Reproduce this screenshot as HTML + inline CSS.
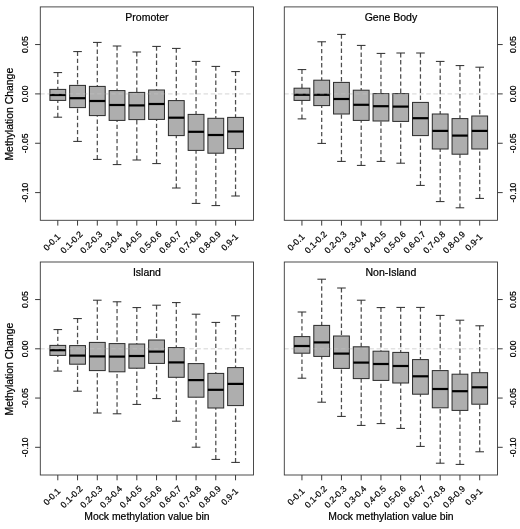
<!DOCTYPE html>
<html lang="en">
<head>
<meta charset="utf-8">
<title>Methylation change by mock methylation value bin</title>
<style>
html,body{margin:0;padding:0;background:#fff;}
body{width:520px;height:529px;overflow:hidden;}
svg{display:block;font-family:"Liberation Sans",sans-serif;fill:#000;will-change:transform;}
svg text{stroke:#000;stroke-width:0.22px;}
svg line, svg rect{shape-rendering:auto;}
</style>
</head>
<body>
<svg width="520" height="529" viewBox="0 0 520 529">
<rect x="0" y="0" width="520" height="529" fill="#ffffff" stroke="none"/>
<line x1="40.3" y1="93.9" x2="253.5" y2="93.9" stroke="#dcdcdc" stroke-width="1.0" stroke-dasharray="4.4 2.7"/>
<line x1="57.8" y1="72.6" x2="57.8" y2="89.4" stroke="#4c4c4c" stroke-width="1.25" stroke-dasharray="4.4 2.7"/>
<line x1="57.8" y1="117.2" x2="57.8" y2="100.4" stroke="#4c4c4c" stroke-width="1.25" stroke-dasharray="4.4 2.7"/>
<line x1="53.5" y1="72.6" x2="62.1" y2="72.6" stroke="#2a2a2a" stroke-width="1.0"/>
<line x1="53.5" y1="117.2" x2="62.1" y2="117.2" stroke="#2a2a2a" stroke-width="1.0"/>
<rect x="49.9" y="89.4" width="15.8" height="11" fill="#aeaeae" stroke="#2a2a2a" stroke-width="1.0"/>
<line x1="49.9" y1="95" x2="65.7" y2="95" stroke="#000" stroke-width="2.2"/>
<line x1="77.55" y1="51.6" x2="77.55" y2="85.4" stroke="#4c4c4c" stroke-width="1.25" stroke-dasharray="4.4 2.7"/>
<line x1="77.55" y1="141.4" x2="77.55" y2="107.6" stroke="#4c4c4c" stroke-width="1.25" stroke-dasharray="4.4 2.7"/>
<line x1="73.25" y1="51.6" x2="81.85" y2="51.6" stroke="#2a2a2a" stroke-width="1.0"/>
<line x1="73.25" y1="141.4" x2="81.85" y2="141.4" stroke="#2a2a2a" stroke-width="1.0"/>
<rect x="69.65" y="85.4" width="15.8" height="22.2" fill="#aeaeae" stroke="#2a2a2a" stroke-width="1.0"/>
<line x1="69.65" y1="98.2" x2="85.45" y2="98.2" stroke="#000" stroke-width="2.2"/>
<line x1="97.3" y1="42.4" x2="97.3" y2="86.4" stroke="#4c4c4c" stroke-width="1.25" stroke-dasharray="4.4 2.7"/>
<line x1="97.3" y1="159.4" x2="97.3" y2="115.6" stroke="#4c4c4c" stroke-width="1.25" stroke-dasharray="4.4 2.7"/>
<line x1="93" y1="42.4" x2="101.6" y2="42.4" stroke="#2a2a2a" stroke-width="1.0"/>
<line x1="93" y1="159.4" x2="101.6" y2="159.4" stroke="#2a2a2a" stroke-width="1.0"/>
<rect x="89.4" y="86.4" width="15.8" height="29.2" fill="#aeaeae" stroke="#2a2a2a" stroke-width="1.0"/>
<line x1="89.4" y1="101" x2="105.2" y2="101" stroke="#000" stroke-width="2.2"/>
<line x1="117.05" y1="46" x2="117.05" y2="90.6" stroke="#4c4c4c" stroke-width="1.25" stroke-dasharray="4.4 2.7"/>
<line x1="117.05" y1="164.6" x2="117.05" y2="120.4" stroke="#4c4c4c" stroke-width="1.25" stroke-dasharray="4.4 2.7"/>
<line x1="112.75" y1="46" x2="121.35" y2="46" stroke="#2a2a2a" stroke-width="1.0"/>
<line x1="112.75" y1="164.6" x2="121.35" y2="164.6" stroke="#2a2a2a" stroke-width="1.0"/>
<rect x="109.15" y="90.6" width="15.8" height="29.8" fill="#aeaeae" stroke="#2a2a2a" stroke-width="1.0"/>
<line x1="109.15" y1="105" x2="124.95" y2="105" stroke="#000" stroke-width="2.2"/>
<line x1="136.8" y1="52" x2="136.8" y2="92.4" stroke="#4c4c4c" stroke-width="1.25" stroke-dasharray="4.4 2.7"/>
<line x1="136.8" y1="160" x2="136.8" y2="119.6" stroke="#4c4c4c" stroke-width="1.25" stroke-dasharray="4.4 2.7"/>
<line x1="132.5" y1="52" x2="141.1" y2="52" stroke="#2a2a2a" stroke-width="1.0"/>
<line x1="132.5" y1="160" x2="141.1" y2="160" stroke="#2a2a2a" stroke-width="1.0"/>
<rect x="128.9" y="92.4" width="15.8" height="27.2" fill="#aeaeae" stroke="#2a2a2a" stroke-width="1.0"/>
<line x1="128.9" y1="105.4" x2="144.7" y2="105.4" stroke="#000" stroke-width="2.2"/>
<line x1="156.55" y1="46.4" x2="156.55" y2="90" stroke="#4c4c4c" stroke-width="1.25" stroke-dasharray="4.4 2.7"/>
<line x1="156.55" y1="163.6" x2="156.55" y2="119.4" stroke="#4c4c4c" stroke-width="1.25" stroke-dasharray="4.4 2.7"/>
<line x1="152.25" y1="46.4" x2="160.85" y2="46.4" stroke="#2a2a2a" stroke-width="1.0"/>
<line x1="152.25" y1="163.6" x2="160.85" y2="163.6" stroke="#2a2a2a" stroke-width="1.0"/>
<rect x="148.65" y="90" width="15.8" height="29.4" fill="#aeaeae" stroke="#2a2a2a" stroke-width="1.0"/>
<line x1="148.65" y1="104" x2="164.45" y2="104" stroke="#000" stroke-width="2.2"/>
<line x1="176.3" y1="48.4" x2="176.3" y2="100.6" stroke="#4c4c4c" stroke-width="1.25" stroke-dasharray="4.4 2.7"/>
<line x1="176.3" y1="188" x2="176.3" y2="135.6" stroke="#4c4c4c" stroke-width="1.25" stroke-dasharray="4.4 2.7"/>
<line x1="172" y1="48.4" x2="180.6" y2="48.4" stroke="#2a2a2a" stroke-width="1.0"/>
<line x1="172" y1="188" x2="180.6" y2="188" stroke="#2a2a2a" stroke-width="1.0"/>
<rect x="168.4" y="100.6" width="15.8" height="35" fill="#aeaeae" stroke="#2a2a2a" stroke-width="1.0"/>
<line x1="168.4" y1="117.7" x2="184.2" y2="117.7" stroke="#000" stroke-width="2.2"/>
<line x1="196.05" y1="61.4" x2="196.05" y2="114.4" stroke="#4c4c4c" stroke-width="1.25" stroke-dasharray="4.4 2.7"/>
<line x1="196.05" y1="203.4" x2="196.05" y2="150.4" stroke="#4c4c4c" stroke-width="1.25" stroke-dasharray="4.4 2.7"/>
<line x1="191.75" y1="61.4" x2="200.35" y2="61.4" stroke="#2a2a2a" stroke-width="1.0"/>
<line x1="191.75" y1="203.4" x2="200.35" y2="203.4" stroke="#2a2a2a" stroke-width="1.0"/>
<rect x="188.15" y="114.4" width="15.8" height="36" fill="#aeaeae" stroke="#2a2a2a" stroke-width="1.0"/>
<line x1="188.15" y1="131.8" x2="203.95" y2="131.8" stroke="#000" stroke-width="2.2"/>
<line x1="215.8" y1="66.4" x2="215.8" y2="118.3" stroke="#4c4c4c" stroke-width="1.25" stroke-dasharray="4.4 2.7"/>
<line x1="215.8" y1="205.6" x2="215.8" y2="153.2" stroke="#4c4c4c" stroke-width="1.25" stroke-dasharray="4.4 2.7"/>
<line x1="211.5" y1="66.4" x2="220.1" y2="66.4" stroke="#2a2a2a" stroke-width="1.0"/>
<line x1="211.5" y1="205.6" x2="220.1" y2="205.6" stroke="#2a2a2a" stroke-width="1.0"/>
<rect x="207.9" y="118.3" width="15.8" height="34.9" fill="#aeaeae" stroke="#2a2a2a" stroke-width="1.0"/>
<line x1="207.9" y1="135" x2="223.7" y2="135" stroke="#000" stroke-width="2.2"/>
<line x1="235.55" y1="71.6" x2="235.55" y2="117.4" stroke="#4c4c4c" stroke-width="1.25" stroke-dasharray="4.4 2.7"/>
<line x1="235.55" y1="196" x2="235.55" y2="148.6" stroke="#4c4c4c" stroke-width="1.25" stroke-dasharray="4.4 2.7"/>
<line x1="231.25" y1="71.6" x2="239.85" y2="71.6" stroke="#2a2a2a" stroke-width="1.0"/>
<line x1="231.25" y1="196" x2="239.85" y2="196" stroke="#2a2a2a" stroke-width="1.0"/>
<rect x="227.65" y="117.4" width="15.8" height="31.2" fill="#aeaeae" stroke="#2a2a2a" stroke-width="1.0"/>
<line x1="227.65" y1="131.5" x2="243.45" y2="131.5" stroke="#000" stroke-width="2.2"/>
<line x1="40.3" y1="93.9" x2="253.5" y2="93.9" stroke="#d3d3d3" stroke-opacity="0.3" stroke-width="1.0" stroke-dasharray="4.4 2.7"/>
<rect x="40.3" y="6.9" width="213.2" height="213.4" fill="none" stroke="#383838" stroke-width="0.9"/>
<line x1="57.8" y1="220.3" x2="57.8" y2="225.6" stroke="#3a3a3a" stroke-width="1.0"/>
<text x="51.8" y="242.2" font-size="8.7" text-anchor="middle" dominant-baseline="central" transform="rotate(-45 51.8 242.2)">0-0.1</text>
<line x1="77.55" y1="220.3" x2="77.55" y2="225.6" stroke="#3a3a3a" stroke-width="1.0"/>
<text x="71.55" y="242.2" font-size="8.7" text-anchor="middle" dominant-baseline="central" transform="rotate(-45 71.55 242.2)">0.1-0.2</text>
<line x1="97.3" y1="220.3" x2="97.3" y2="225.6" stroke="#3a3a3a" stroke-width="1.0"/>
<text x="91.3" y="242.2" font-size="8.7" text-anchor="middle" dominant-baseline="central" transform="rotate(-45 91.3 242.2)">0.2-0.3</text>
<line x1="117.05" y1="220.3" x2="117.05" y2="225.6" stroke="#3a3a3a" stroke-width="1.0"/>
<text x="111.05" y="242.2" font-size="8.7" text-anchor="middle" dominant-baseline="central" transform="rotate(-45 111.05 242.2)">0.3-0.4</text>
<line x1="136.8" y1="220.3" x2="136.8" y2="225.6" stroke="#3a3a3a" stroke-width="1.0"/>
<text x="130.8" y="242.2" font-size="8.7" text-anchor="middle" dominant-baseline="central" transform="rotate(-45 130.8 242.2)">0.4-0.5</text>
<line x1="156.55" y1="220.3" x2="156.55" y2="225.6" stroke="#3a3a3a" stroke-width="1.0"/>
<text x="150.55" y="242.2" font-size="8.7" text-anchor="middle" dominant-baseline="central" transform="rotate(-45 150.55 242.2)">0.5-0.6</text>
<line x1="176.3" y1="220.3" x2="176.3" y2="225.6" stroke="#3a3a3a" stroke-width="1.0"/>
<text x="170.3" y="242.2" font-size="8.7" text-anchor="middle" dominant-baseline="central" transform="rotate(-45 170.3 242.2)">0.6-0.7</text>
<line x1="196.05" y1="220.3" x2="196.05" y2="225.6" stroke="#3a3a3a" stroke-width="1.0"/>
<text x="190.05" y="242.2" font-size="8.7" text-anchor="middle" dominant-baseline="central" transform="rotate(-45 190.05 242.2)">0.7-0.8</text>
<line x1="215.8" y1="220.3" x2="215.8" y2="225.6" stroke="#3a3a3a" stroke-width="1.0"/>
<text x="209.8" y="242.2" font-size="8.7" text-anchor="middle" dominant-baseline="central" transform="rotate(-45 209.8 242.2)">0.8-0.9</text>
<line x1="235.55" y1="220.3" x2="235.55" y2="225.6" stroke="#3a3a3a" stroke-width="1.0"/>
<text x="229.55" y="242.2" font-size="8.7" text-anchor="middle" dominant-baseline="central" transform="rotate(-45 229.55 242.2)">0.9-1</text>
<line x1="35.1" y1="44.55" x2="40.3" y2="44.55" stroke="#3a3a3a" stroke-width="1.0"/>
<text x="24.8" y="44.55" font-size="8.7" text-anchor="middle" dominant-baseline="central" transform="rotate(-90 24.8 44.55)">0.05</text>
<line x1="35.1" y1="93.9" x2="40.3" y2="93.9" stroke="#3a3a3a" stroke-width="1.0"/>
<text x="24.8" y="93.9" font-size="8.7" text-anchor="middle" dominant-baseline="central" transform="rotate(-90 24.8 93.9)">0.00</text>
<line x1="35.1" y1="143.25" x2="40.3" y2="143.25" stroke="#3a3a3a" stroke-width="1.0"/>
<text x="24.8" y="143.25" font-size="8.7" text-anchor="middle" dominant-baseline="central" transform="rotate(-90 24.8 143.25)">-0.05</text>
<line x1="35.1" y1="192.6" x2="40.3" y2="192.6" stroke="#3a3a3a" stroke-width="1.0"/>
<text x="24.8" y="192.6" font-size="8.7" text-anchor="middle" dominant-baseline="central" transform="rotate(-90 24.8 192.6)">-0.10</text>
<text x="146.9" y="21" font-size="10.5" text-anchor="middle">Promoter</text>
<text x="9.9" y="114.2" font-size="10.45" text-anchor="middle" dominant-baseline="central" transform="rotate(-90 9.9 114.2)">Methylation Change</text>
<line x1="284.3" y1="93.9" x2="497.5" y2="93.9" stroke="#dcdcdc" stroke-width="1.0" stroke-dasharray="4.4 2.7"/>
<line x1="301.95" y1="69.6" x2="301.95" y2="88.2" stroke="#4c4c4c" stroke-width="1.25" stroke-dasharray="4.4 2.7"/>
<line x1="301.95" y1="118.9" x2="301.95" y2="100.4" stroke="#4c4c4c" stroke-width="1.25" stroke-dasharray="4.4 2.7"/>
<line x1="297.65" y1="69.6" x2="306.25" y2="69.6" stroke="#2a2a2a" stroke-width="1.0"/>
<line x1="297.65" y1="118.9" x2="306.25" y2="118.9" stroke="#2a2a2a" stroke-width="1.0"/>
<rect x="294.05" y="88.2" width="15.8" height="12.2" fill="#aeaeae" stroke="#2a2a2a" stroke-width="1.0"/>
<line x1="294.05" y1="94.8" x2="309.85" y2="94.8" stroke="#000" stroke-width="2.2"/>
<line x1="321.7" y1="41.8" x2="321.7" y2="80.2" stroke="#4c4c4c" stroke-width="1.25" stroke-dasharray="4.4 2.7"/>
<line x1="321.7" y1="143.4" x2="321.7" y2="105.6" stroke="#4c4c4c" stroke-width="1.25" stroke-dasharray="4.4 2.7"/>
<line x1="317.4" y1="41.8" x2="326" y2="41.8" stroke="#2a2a2a" stroke-width="1.0"/>
<line x1="317.4" y1="143.4" x2="326" y2="143.4" stroke="#2a2a2a" stroke-width="1.0"/>
<rect x="313.8" y="80.2" width="15.8" height="25.4" fill="#aeaeae" stroke="#2a2a2a" stroke-width="1.0"/>
<line x1="313.8" y1="94.8" x2="329.6" y2="94.8" stroke="#000" stroke-width="2.2"/>
<line x1="341.45" y1="34.4" x2="341.45" y2="82.4" stroke="#4c4c4c" stroke-width="1.25" stroke-dasharray="4.4 2.7"/>
<line x1="341.45" y1="161.4" x2="341.45" y2="114" stroke="#4c4c4c" stroke-width="1.25" stroke-dasharray="4.4 2.7"/>
<line x1="337.15" y1="34.4" x2="345.75" y2="34.4" stroke="#2a2a2a" stroke-width="1.0"/>
<line x1="337.15" y1="161.4" x2="345.75" y2="161.4" stroke="#2a2a2a" stroke-width="1.0"/>
<rect x="333.55" y="82.4" width="15.8" height="31.6" fill="#aeaeae" stroke="#2a2a2a" stroke-width="1.0"/>
<line x1="333.55" y1="99" x2="349.35" y2="99" stroke="#000" stroke-width="2.2"/>
<line x1="361.2" y1="45.4" x2="361.2" y2="90.2" stroke="#4c4c4c" stroke-width="1.25" stroke-dasharray="4.4 2.7"/>
<line x1="361.2" y1="165.4" x2="361.2" y2="120.4" stroke="#4c4c4c" stroke-width="1.25" stroke-dasharray="4.4 2.7"/>
<line x1="356.9" y1="45.4" x2="365.5" y2="45.4" stroke="#2a2a2a" stroke-width="1.0"/>
<line x1="356.9" y1="165.4" x2="365.5" y2="165.4" stroke="#2a2a2a" stroke-width="1.0"/>
<rect x="353.3" y="90.2" width="15.8" height="30.2" fill="#aeaeae" stroke="#2a2a2a" stroke-width="1.0"/>
<line x1="353.3" y1="104.8" x2="369.1" y2="104.8" stroke="#000" stroke-width="2.2"/>
<line x1="380.95" y1="53.4" x2="380.95" y2="93.6" stroke="#4c4c4c" stroke-width="1.25" stroke-dasharray="4.4 2.7"/>
<line x1="380.95" y1="161.4" x2="380.95" y2="121" stroke="#4c4c4c" stroke-width="1.25" stroke-dasharray="4.4 2.7"/>
<line x1="376.65" y1="53.4" x2="385.25" y2="53.4" stroke="#2a2a2a" stroke-width="1.0"/>
<line x1="376.65" y1="161.4" x2="385.25" y2="161.4" stroke="#2a2a2a" stroke-width="1.0"/>
<rect x="373.05" y="93.6" width="15.8" height="27.4" fill="#aeaeae" stroke="#2a2a2a" stroke-width="1.0"/>
<line x1="373.05" y1="106.2" x2="388.85" y2="106.2" stroke="#000" stroke-width="2.2"/>
<line x1="400.7" y1="53" x2="400.7" y2="93.6" stroke="#4c4c4c" stroke-width="1.25" stroke-dasharray="4.4 2.7"/>
<line x1="400.7" y1="163.2" x2="400.7" y2="121.4" stroke="#4c4c4c" stroke-width="1.25" stroke-dasharray="4.4 2.7"/>
<line x1="396.4" y1="53" x2="405" y2="53" stroke="#2a2a2a" stroke-width="1.0"/>
<line x1="396.4" y1="163.2" x2="405" y2="163.2" stroke="#2a2a2a" stroke-width="1.0"/>
<rect x="392.8" y="93.6" width="15.8" height="27.8" fill="#aeaeae" stroke="#2a2a2a" stroke-width="1.0"/>
<line x1="392.8" y1="106.6" x2="408.6" y2="106.6" stroke="#000" stroke-width="2.2"/>
<line x1="420.45" y1="53" x2="420.45" y2="102.4" stroke="#4c4c4c" stroke-width="1.25" stroke-dasharray="4.4 2.7"/>
<line x1="420.45" y1="185.4" x2="420.45" y2="135.6" stroke="#4c4c4c" stroke-width="1.25" stroke-dasharray="4.4 2.7"/>
<line x1="416.15" y1="53" x2="424.75" y2="53" stroke="#2a2a2a" stroke-width="1.0"/>
<line x1="416.15" y1="185.4" x2="424.75" y2="185.4" stroke="#2a2a2a" stroke-width="1.0"/>
<rect x="412.55" y="102.4" width="15.8" height="33.2" fill="#aeaeae" stroke="#2a2a2a" stroke-width="1.0"/>
<line x1="412.55" y1="118.2" x2="428.35" y2="118.2" stroke="#000" stroke-width="2.2"/>
<line x1="440.2" y1="61.4" x2="440.2" y2="114" stroke="#4c4c4c" stroke-width="1.25" stroke-dasharray="4.4 2.7"/>
<line x1="440.2" y1="201.6" x2="440.2" y2="149" stroke="#4c4c4c" stroke-width="1.25" stroke-dasharray="4.4 2.7"/>
<line x1="435.9" y1="61.4" x2="444.5" y2="61.4" stroke="#2a2a2a" stroke-width="1.0"/>
<line x1="435.9" y1="201.6" x2="444.5" y2="201.6" stroke="#2a2a2a" stroke-width="1.0"/>
<rect x="432.3" y="114" width="15.8" height="35" fill="#aeaeae" stroke="#2a2a2a" stroke-width="1.0"/>
<line x1="432.3" y1="130.9" x2="448.1" y2="130.9" stroke="#000" stroke-width="2.2"/>
<line x1="459.95" y1="65.6" x2="459.95" y2="118.6" stroke="#4c4c4c" stroke-width="1.25" stroke-dasharray="4.4 2.7"/>
<line x1="459.95" y1="207.8" x2="459.95" y2="154.2" stroke="#4c4c4c" stroke-width="1.25" stroke-dasharray="4.4 2.7"/>
<line x1="455.65" y1="65.6" x2="464.25" y2="65.6" stroke="#2a2a2a" stroke-width="1.0"/>
<line x1="455.65" y1="207.8" x2="464.25" y2="207.8" stroke="#2a2a2a" stroke-width="1.0"/>
<rect x="452.05" y="118.6" width="15.8" height="35.6" fill="#aeaeae" stroke="#2a2a2a" stroke-width="1.0"/>
<line x1="452.05" y1="135.6" x2="467.85" y2="135.6" stroke="#000" stroke-width="2.2"/>
<line x1="479.7" y1="67.2" x2="479.7" y2="116" stroke="#4c4c4c" stroke-width="1.25" stroke-dasharray="4.4 2.7"/>
<line x1="479.7" y1="198.4" x2="479.7" y2="149" stroke="#4c4c4c" stroke-width="1.25" stroke-dasharray="4.4 2.7"/>
<line x1="475.4" y1="67.2" x2="484" y2="67.2" stroke="#2a2a2a" stroke-width="1.0"/>
<line x1="475.4" y1="198.4" x2="484" y2="198.4" stroke="#2a2a2a" stroke-width="1.0"/>
<rect x="471.8" y="116" width="15.8" height="33" fill="#aeaeae" stroke="#2a2a2a" stroke-width="1.0"/>
<line x1="471.8" y1="130.9" x2="487.6" y2="130.9" stroke="#000" stroke-width="2.2"/>
<line x1="284.3" y1="93.9" x2="497.5" y2="93.9" stroke="#d3d3d3" stroke-opacity="0.3" stroke-width="1.0" stroke-dasharray="4.4 2.7"/>
<rect x="284.3" y="6.9" width="213.2" height="213.4" fill="none" stroke="#383838" stroke-width="0.9"/>
<line x1="301.95" y1="220.3" x2="301.95" y2="225.6" stroke="#3a3a3a" stroke-width="1.0"/>
<text x="295.95" y="242.2" font-size="8.7" text-anchor="middle" dominant-baseline="central" transform="rotate(-45 295.95 242.2)">0-0.1</text>
<line x1="321.7" y1="220.3" x2="321.7" y2="225.6" stroke="#3a3a3a" stroke-width="1.0"/>
<text x="315.7" y="242.2" font-size="8.7" text-anchor="middle" dominant-baseline="central" transform="rotate(-45 315.7 242.2)">0.1-0.2</text>
<line x1="341.45" y1="220.3" x2="341.45" y2="225.6" stroke="#3a3a3a" stroke-width="1.0"/>
<text x="335.45" y="242.2" font-size="8.7" text-anchor="middle" dominant-baseline="central" transform="rotate(-45 335.45 242.2)">0.2-0.3</text>
<line x1="361.2" y1="220.3" x2="361.2" y2="225.6" stroke="#3a3a3a" stroke-width="1.0"/>
<text x="355.2" y="242.2" font-size="8.7" text-anchor="middle" dominant-baseline="central" transform="rotate(-45 355.2 242.2)">0.3-0.4</text>
<line x1="380.95" y1="220.3" x2="380.95" y2="225.6" stroke="#3a3a3a" stroke-width="1.0"/>
<text x="374.95" y="242.2" font-size="8.7" text-anchor="middle" dominant-baseline="central" transform="rotate(-45 374.95 242.2)">0.4-0.5</text>
<line x1="400.7" y1="220.3" x2="400.7" y2="225.6" stroke="#3a3a3a" stroke-width="1.0"/>
<text x="394.7" y="242.2" font-size="8.7" text-anchor="middle" dominant-baseline="central" transform="rotate(-45 394.7 242.2)">0.5-0.6</text>
<line x1="420.45" y1="220.3" x2="420.45" y2="225.6" stroke="#3a3a3a" stroke-width="1.0"/>
<text x="414.45" y="242.2" font-size="8.7" text-anchor="middle" dominant-baseline="central" transform="rotate(-45 414.45 242.2)">0.6-0.7</text>
<line x1="440.2" y1="220.3" x2="440.2" y2="225.6" stroke="#3a3a3a" stroke-width="1.0"/>
<text x="434.2" y="242.2" font-size="8.7" text-anchor="middle" dominant-baseline="central" transform="rotate(-45 434.2 242.2)">0.7-0.8</text>
<line x1="459.95" y1="220.3" x2="459.95" y2="225.6" stroke="#3a3a3a" stroke-width="1.0"/>
<text x="453.95" y="242.2" font-size="8.7" text-anchor="middle" dominant-baseline="central" transform="rotate(-45 453.95 242.2)">0.8-0.9</text>
<line x1="479.7" y1="220.3" x2="479.7" y2="225.6" stroke="#3a3a3a" stroke-width="1.0"/>
<text x="473.7" y="242.2" font-size="8.7" text-anchor="middle" dominant-baseline="central" transform="rotate(-45 473.7 242.2)">0.9-1</text>
<line x1="497.5" y1="44.55" x2="502.7" y2="44.55" stroke="#3a3a3a" stroke-width="1.0"/>
<text x="513" y="44.55" font-size="8.7" text-anchor="middle" dominant-baseline="central" transform="rotate(-90 513 44.55)">0.05</text>
<line x1="497.5" y1="93.9" x2="502.7" y2="93.9" stroke="#3a3a3a" stroke-width="1.0"/>
<text x="513" y="93.9" font-size="8.7" text-anchor="middle" dominant-baseline="central" transform="rotate(-90 513 93.9)">0.00</text>
<line x1="497.5" y1="143.25" x2="502.7" y2="143.25" stroke="#3a3a3a" stroke-width="1.0"/>
<text x="513" y="143.25" font-size="8.7" text-anchor="middle" dominant-baseline="central" transform="rotate(-90 513 143.25)">-0.05</text>
<line x1="497.5" y1="192.6" x2="502.7" y2="192.6" stroke="#3a3a3a" stroke-width="1.0"/>
<text x="513" y="192.6" font-size="8.7" text-anchor="middle" dominant-baseline="central" transform="rotate(-90 513 192.6)">-0.10</text>
<text x="390.9" y="21" font-size="10.5" text-anchor="middle">Gene Body</text>
<line x1="40.3" y1="348.8" x2="253.5" y2="348.8" stroke="#dcdcdc" stroke-width="1.0" stroke-dasharray="4.4 2.7"/>
<line x1="57.8" y1="329.6" x2="57.8" y2="345.4" stroke="#4c4c4c" stroke-width="1.25" stroke-dasharray="4.4 2.7"/>
<line x1="57.8" y1="371.1" x2="57.8" y2="355.4" stroke="#4c4c4c" stroke-width="1.25" stroke-dasharray="4.4 2.7"/>
<line x1="53.5" y1="329.6" x2="62.1" y2="329.6" stroke="#2a2a2a" stroke-width="1.0"/>
<line x1="53.5" y1="371.1" x2="62.1" y2="371.1" stroke="#2a2a2a" stroke-width="1.0"/>
<rect x="49.9" y="345.4" width="15.8" height="10" fill="#aeaeae" stroke="#2a2a2a" stroke-width="1.0"/>
<line x1="49.9" y1="350.2" x2="65.7" y2="350.2" stroke="#000" stroke-width="2.2"/>
<line x1="77.55" y1="318.6" x2="77.55" y2="345.6" stroke="#4c4c4c" stroke-width="1.25" stroke-dasharray="4.4 2.7"/>
<line x1="77.55" y1="391.2" x2="77.55" y2="364.2" stroke="#4c4c4c" stroke-width="1.25" stroke-dasharray="4.4 2.7"/>
<line x1="73.25" y1="318.6" x2="81.85" y2="318.6" stroke="#2a2a2a" stroke-width="1.0"/>
<line x1="73.25" y1="391.2" x2="81.85" y2="391.2" stroke="#2a2a2a" stroke-width="1.0"/>
<rect x="69.65" y="345.6" width="15.8" height="18.6" fill="#aeaeae" stroke="#2a2a2a" stroke-width="1.0"/>
<line x1="69.65" y1="355.6" x2="85.45" y2="355.6" stroke="#000" stroke-width="2.2"/>
<line x1="97.3" y1="300.2" x2="97.3" y2="342.4" stroke="#4c4c4c" stroke-width="1.25" stroke-dasharray="4.4 2.7"/>
<line x1="97.3" y1="413" x2="97.3" y2="370.6" stroke="#4c4c4c" stroke-width="1.25" stroke-dasharray="4.4 2.7"/>
<line x1="93" y1="300.2" x2="101.6" y2="300.2" stroke="#2a2a2a" stroke-width="1.0"/>
<line x1="93" y1="413" x2="101.6" y2="413" stroke="#2a2a2a" stroke-width="1.0"/>
<rect x="89.4" y="342.4" width="15.8" height="28.2" fill="#aeaeae" stroke="#2a2a2a" stroke-width="1.0"/>
<line x1="89.4" y1="356.4" x2="105.2" y2="356.4" stroke="#000" stroke-width="2.2"/>
<line x1="117.05" y1="301.8" x2="117.05" y2="343.6" stroke="#4c4c4c" stroke-width="1.25" stroke-dasharray="4.4 2.7"/>
<line x1="117.05" y1="413.8" x2="117.05" y2="371.8" stroke="#4c4c4c" stroke-width="1.25" stroke-dasharray="4.4 2.7"/>
<line x1="112.75" y1="301.8" x2="121.35" y2="301.8" stroke="#2a2a2a" stroke-width="1.0"/>
<line x1="112.75" y1="413.8" x2="121.35" y2="413.8" stroke="#2a2a2a" stroke-width="1.0"/>
<rect x="109.15" y="343.6" width="15.8" height="28.2" fill="#aeaeae" stroke="#2a2a2a" stroke-width="1.0"/>
<line x1="109.15" y1="356.6" x2="124.95" y2="356.6" stroke="#000" stroke-width="2.2"/>
<line x1="136.8" y1="307.6" x2="136.8" y2="344" stroke="#4c4c4c" stroke-width="1.25" stroke-dasharray="4.4 2.7"/>
<line x1="136.8" y1="404.4" x2="136.8" y2="368.2" stroke="#4c4c4c" stroke-width="1.25" stroke-dasharray="4.4 2.7"/>
<line x1="132.5" y1="307.6" x2="141.1" y2="307.6" stroke="#2a2a2a" stroke-width="1.0"/>
<line x1="132.5" y1="404.4" x2="141.1" y2="404.4" stroke="#2a2a2a" stroke-width="1.0"/>
<rect x="128.9" y="344" width="15.8" height="24.2" fill="#aeaeae" stroke="#2a2a2a" stroke-width="1.0"/>
<line x1="128.9" y1="356" x2="144.7" y2="356" stroke="#000" stroke-width="2.2"/>
<line x1="156.55" y1="305.2" x2="156.55" y2="340" stroke="#4c4c4c" stroke-width="1.25" stroke-dasharray="4.4 2.7"/>
<line x1="156.55" y1="398.6" x2="156.55" y2="363.4" stroke="#4c4c4c" stroke-width="1.25" stroke-dasharray="4.4 2.7"/>
<line x1="152.25" y1="305.2" x2="160.85" y2="305.2" stroke="#2a2a2a" stroke-width="1.0"/>
<line x1="152.25" y1="398.6" x2="160.85" y2="398.6" stroke="#2a2a2a" stroke-width="1.0"/>
<rect x="148.65" y="340" width="15.8" height="23.4" fill="#aeaeae" stroke="#2a2a2a" stroke-width="1.0"/>
<line x1="148.65" y1="351.6" x2="164.45" y2="351.6" stroke="#000" stroke-width="2.2"/>
<line x1="176.3" y1="302.6" x2="176.3" y2="347.6" stroke="#4c4c4c" stroke-width="1.25" stroke-dasharray="4.4 2.7"/>
<line x1="176.3" y1="421.2" x2="176.3" y2="377.3" stroke="#4c4c4c" stroke-width="1.25" stroke-dasharray="4.4 2.7"/>
<line x1="172" y1="302.6" x2="180.6" y2="302.6" stroke="#2a2a2a" stroke-width="1.0"/>
<line x1="172" y1="421.2" x2="180.6" y2="421.2" stroke="#2a2a2a" stroke-width="1.0"/>
<rect x="168.4" y="347.6" width="15.8" height="29.7" fill="#aeaeae" stroke="#2a2a2a" stroke-width="1.0"/>
<line x1="168.4" y1="362.4" x2="184.2" y2="362.4" stroke="#000" stroke-width="2.2"/>
<line x1="196.05" y1="314.2" x2="196.05" y2="363.6" stroke="#4c4c4c" stroke-width="1.25" stroke-dasharray="4.4 2.7"/>
<line x1="196.05" y1="447.2" x2="196.05" y2="397.2" stroke="#4c4c4c" stroke-width="1.25" stroke-dasharray="4.4 2.7"/>
<line x1="191.75" y1="314.2" x2="200.35" y2="314.2" stroke="#2a2a2a" stroke-width="1.0"/>
<line x1="191.75" y1="447.2" x2="200.35" y2="447.2" stroke="#2a2a2a" stroke-width="1.0"/>
<rect x="188.15" y="363.6" width="15.8" height="33.6" fill="#aeaeae" stroke="#2a2a2a" stroke-width="1.0"/>
<line x1="188.15" y1="380.1" x2="203.95" y2="380.1" stroke="#000" stroke-width="2.2"/>
<line x1="215.8" y1="322.4" x2="215.8" y2="373.4" stroke="#4c4c4c" stroke-width="1.25" stroke-dasharray="4.4 2.7"/>
<line x1="215.8" y1="459.4" x2="215.8" y2="408" stroke="#4c4c4c" stroke-width="1.25" stroke-dasharray="4.4 2.7"/>
<line x1="211.5" y1="322.4" x2="220.1" y2="322.4" stroke="#2a2a2a" stroke-width="1.0"/>
<line x1="211.5" y1="459.4" x2="220.1" y2="459.4" stroke="#2a2a2a" stroke-width="1.0"/>
<rect x="207.9" y="373.4" width="15.8" height="34.6" fill="#aeaeae" stroke="#2a2a2a" stroke-width="1.0"/>
<line x1="207.9" y1="389.8" x2="223.7" y2="389.8" stroke="#000" stroke-width="2.2"/>
<line x1="235.55" y1="315.8" x2="235.55" y2="367.6" stroke="#4c4c4c" stroke-width="1.25" stroke-dasharray="4.4 2.7"/>
<line x1="235.55" y1="462.4" x2="235.55" y2="405.6" stroke="#4c4c4c" stroke-width="1.25" stroke-dasharray="4.4 2.7"/>
<line x1="231.25" y1="315.8" x2="239.85" y2="315.8" stroke="#2a2a2a" stroke-width="1.0"/>
<line x1="231.25" y1="462.4" x2="239.85" y2="462.4" stroke="#2a2a2a" stroke-width="1.0"/>
<rect x="227.65" y="367.6" width="15.8" height="38" fill="#aeaeae" stroke="#2a2a2a" stroke-width="1.0"/>
<line x1="227.65" y1="383.9" x2="243.45" y2="383.9" stroke="#000" stroke-width="2.2"/>
<line x1="40.3" y1="348.8" x2="253.5" y2="348.8" stroke="#d3d3d3" stroke-opacity="0.3" stroke-width="1.0" stroke-dasharray="4.4 2.7"/>
<rect x="40.3" y="262" width="213.2" height="213" fill="none" stroke="#383838" stroke-width="0.9"/>
<line x1="57.8" y1="475" x2="57.8" y2="480.3" stroke="#3a3a3a" stroke-width="1.0"/>
<text x="51.8" y="496.7" font-size="8.7" text-anchor="middle" dominant-baseline="central" transform="rotate(-45 51.8 496.7)">0-0.1</text>
<line x1="77.55" y1="475" x2="77.55" y2="480.3" stroke="#3a3a3a" stroke-width="1.0"/>
<text x="71.55" y="496.7" font-size="8.7" text-anchor="middle" dominant-baseline="central" transform="rotate(-45 71.55 496.7)">0.1-0.2</text>
<line x1="97.3" y1="475" x2="97.3" y2="480.3" stroke="#3a3a3a" stroke-width="1.0"/>
<text x="91.3" y="496.7" font-size="8.7" text-anchor="middle" dominant-baseline="central" transform="rotate(-45 91.3 496.7)">0.2-0.3</text>
<line x1="117.05" y1="475" x2="117.05" y2="480.3" stroke="#3a3a3a" stroke-width="1.0"/>
<text x="111.05" y="496.7" font-size="8.7" text-anchor="middle" dominant-baseline="central" transform="rotate(-45 111.05 496.7)">0.3-0.4</text>
<line x1="136.8" y1="475" x2="136.8" y2="480.3" stroke="#3a3a3a" stroke-width="1.0"/>
<text x="130.8" y="496.7" font-size="8.7" text-anchor="middle" dominant-baseline="central" transform="rotate(-45 130.8 496.7)">0.4-0.5</text>
<line x1="156.55" y1="475" x2="156.55" y2="480.3" stroke="#3a3a3a" stroke-width="1.0"/>
<text x="150.55" y="496.7" font-size="8.7" text-anchor="middle" dominant-baseline="central" transform="rotate(-45 150.55 496.7)">0.5-0.6</text>
<line x1="176.3" y1="475" x2="176.3" y2="480.3" stroke="#3a3a3a" stroke-width="1.0"/>
<text x="170.3" y="496.7" font-size="8.7" text-anchor="middle" dominant-baseline="central" transform="rotate(-45 170.3 496.7)">0.6-0.7</text>
<line x1="196.05" y1="475" x2="196.05" y2="480.3" stroke="#3a3a3a" stroke-width="1.0"/>
<text x="190.05" y="496.7" font-size="8.7" text-anchor="middle" dominant-baseline="central" transform="rotate(-45 190.05 496.7)">0.7-0.8</text>
<line x1="215.8" y1="475" x2="215.8" y2="480.3" stroke="#3a3a3a" stroke-width="1.0"/>
<text x="209.8" y="496.7" font-size="8.7" text-anchor="middle" dominant-baseline="central" transform="rotate(-45 209.8 496.7)">0.8-0.9</text>
<line x1="235.55" y1="475" x2="235.55" y2="480.3" stroke="#3a3a3a" stroke-width="1.0"/>
<text x="229.55" y="496.7" font-size="8.7" text-anchor="middle" dominant-baseline="central" transform="rotate(-45 229.55 496.7)">0.9-1</text>
<line x1="35.1" y1="299.55" x2="40.3" y2="299.55" stroke="#3a3a3a" stroke-width="1.0"/>
<text x="24.8" y="299.55" font-size="8.7" text-anchor="middle" dominant-baseline="central" transform="rotate(-90 24.8 299.55)">0.05</text>
<line x1="35.1" y1="348.8" x2="40.3" y2="348.8" stroke="#3a3a3a" stroke-width="1.0"/>
<text x="24.8" y="348.8" font-size="8.7" text-anchor="middle" dominant-baseline="central" transform="rotate(-90 24.8 348.8)">0.00</text>
<line x1="35.1" y1="398.05" x2="40.3" y2="398.05" stroke="#3a3a3a" stroke-width="1.0"/>
<text x="24.8" y="398.05" font-size="8.7" text-anchor="middle" dominant-baseline="central" transform="rotate(-90 24.8 398.05)">-0.05</text>
<line x1="35.1" y1="447.3" x2="40.3" y2="447.3" stroke="#3a3a3a" stroke-width="1.0"/>
<text x="24.8" y="447.3" font-size="8.7" text-anchor="middle" dominant-baseline="central" transform="rotate(-90 24.8 447.3)">-0.10</text>
<text x="146.9" y="275.8" font-size="10.5" text-anchor="middle">Island</text>
<text x="9.9" y="369.1" font-size="10.45" text-anchor="middle" dominant-baseline="central" transform="rotate(-90 9.9 369.1)">Methylation Change</text>
<text x="146.9" y="519.7" font-size="10.4" text-anchor="middle">Mock methylation value bin</text>
<line x1="284.3" y1="348.8" x2="497.5" y2="348.8" stroke="#dcdcdc" stroke-width="1.0" stroke-dasharray="4.4 2.7"/>
<line x1="301.95" y1="312" x2="301.95" y2="336.6" stroke="#4c4c4c" stroke-width="1.25" stroke-dasharray="4.4 2.7"/>
<line x1="301.95" y1="378.2" x2="301.95" y2="353.2" stroke="#4c4c4c" stroke-width="1.25" stroke-dasharray="4.4 2.7"/>
<line x1="297.65" y1="312" x2="306.25" y2="312" stroke="#2a2a2a" stroke-width="1.0"/>
<line x1="297.65" y1="378.2" x2="306.25" y2="378.2" stroke="#2a2a2a" stroke-width="1.0"/>
<rect x="294.05" y="336.6" width="15.8" height="16.6" fill="#aeaeae" stroke="#2a2a2a" stroke-width="1.0"/>
<line x1="294.05" y1="346" x2="309.85" y2="346" stroke="#000" stroke-width="2.2"/>
<line x1="321.7" y1="279.2" x2="321.7" y2="325.4" stroke="#4c4c4c" stroke-width="1.25" stroke-dasharray="4.4 2.7"/>
<line x1="321.7" y1="402.2" x2="321.7" y2="356.4" stroke="#4c4c4c" stroke-width="1.25" stroke-dasharray="4.4 2.7"/>
<line x1="317.4" y1="279.2" x2="326" y2="279.2" stroke="#2a2a2a" stroke-width="1.0"/>
<line x1="317.4" y1="402.2" x2="326" y2="402.2" stroke="#2a2a2a" stroke-width="1.0"/>
<rect x="313.8" y="325.4" width="15.8" height="31" fill="#aeaeae" stroke="#2a2a2a" stroke-width="1.0"/>
<line x1="313.8" y1="342.4" x2="329.6" y2="342.4" stroke="#000" stroke-width="2.2"/>
<line x1="341.45" y1="288" x2="341.45" y2="336" stroke="#4c4c4c" stroke-width="1.25" stroke-dasharray="4.4 2.7"/>
<line x1="341.45" y1="416.4" x2="341.45" y2="368.4" stroke="#4c4c4c" stroke-width="1.25" stroke-dasharray="4.4 2.7"/>
<line x1="337.15" y1="288" x2="345.75" y2="288" stroke="#2a2a2a" stroke-width="1.0"/>
<line x1="337.15" y1="416.4" x2="345.75" y2="416.4" stroke="#2a2a2a" stroke-width="1.0"/>
<rect x="333.55" y="336" width="15.8" height="32.4" fill="#aeaeae" stroke="#2a2a2a" stroke-width="1.0"/>
<line x1="333.55" y1="353.6" x2="349.35" y2="353.6" stroke="#000" stroke-width="2.2"/>
<line x1="361.2" y1="300.2" x2="361.2" y2="346.8" stroke="#4c4c4c" stroke-width="1.25" stroke-dasharray="4.4 2.7"/>
<line x1="361.2" y1="425.4" x2="361.2" y2="378.6" stroke="#4c4c4c" stroke-width="1.25" stroke-dasharray="4.4 2.7"/>
<line x1="356.9" y1="300.2" x2="365.5" y2="300.2" stroke="#2a2a2a" stroke-width="1.0"/>
<line x1="356.9" y1="425.4" x2="365.5" y2="425.4" stroke="#2a2a2a" stroke-width="1.0"/>
<rect x="353.3" y="346.8" width="15.8" height="31.8" fill="#aeaeae" stroke="#2a2a2a" stroke-width="1.0"/>
<line x1="353.3" y1="362.6" x2="369.1" y2="362.6" stroke="#000" stroke-width="2.2"/>
<line x1="380.95" y1="307.6" x2="380.95" y2="351.2" stroke="#4c4c4c" stroke-width="1.25" stroke-dasharray="4.4 2.7"/>
<line x1="380.95" y1="423.6" x2="380.95" y2="380.4" stroke="#4c4c4c" stroke-width="1.25" stroke-dasharray="4.4 2.7"/>
<line x1="376.65" y1="307.6" x2="385.25" y2="307.6" stroke="#2a2a2a" stroke-width="1.0"/>
<line x1="376.65" y1="423.6" x2="385.25" y2="423.6" stroke="#2a2a2a" stroke-width="1.0"/>
<rect x="373.05" y="351.2" width="15.8" height="29.2" fill="#aeaeae" stroke="#2a2a2a" stroke-width="1.0"/>
<line x1="373.05" y1="364" x2="388.85" y2="364" stroke="#000" stroke-width="2.2"/>
<line x1="400.7" y1="307.4" x2="400.7" y2="352.4" stroke="#4c4c4c" stroke-width="1.25" stroke-dasharray="4.4 2.7"/>
<line x1="400.7" y1="428.4" x2="400.7" y2="383" stroke="#4c4c4c" stroke-width="1.25" stroke-dasharray="4.4 2.7"/>
<line x1="396.4" y1="307.4" x2="405" y2="307.4" stroke="#2a2a2a" stroke-width="1.0"/>
<line x1="396.4" y1="428.4" x2="405" y2="428.4" stroke="#2a2a2a" stroke-width="1.0"/>
<rect x="392.8" y="352.4" width="15.8" height="30.6" fill="#aeaeae" stroke="#2a2a2a" stroke-width="1.0"/>
<line x1="392.8" y1="366" x2="408.6" y2="366" stroke="#000" stroke-width="2.2"/>
<line x1="420.45" y1="307.4" x2="420.45" y2="359.6" stroke="#4c4c4c" stroke-width="1.25" stroke-dasharray="4.4 2.7"/>
<line x1="420.45" y1="446.4" x2="420.45" y2="394.2" stroke="#4c4c4c" stroke-width="1.25" stroke-dasharray="4.4 2.7"/>
<line x1="416.15" y1="307.4" x2="424.75" y2="307.4" stroke="#2a2a2a" stroke-width="1.0"/>
<line x1="416.15" y1="446.4" x2="424.75" y2="446.4" stroke="#2a2a2a" stroke-width="1.0"/>
<rect x="412.55" y="359.6" width="15.8" height="34.6" fill="#aeaeae" stroke="#2a2a2a" stroke-width="1.0"/>
<line x1="412.55" y1="376.3" x2="428.35" y2="376.3" stroke="#000" stroke-width="2.2"/>
<line x1="440.2" y1="315.4" x2="440.2" y2="370.6" stroke="#4c4c4c" stroke-width="1.25" stroke-dasharray="4.4 2.7"/>
<line x1="440.2" y1="463.2" x2="440.2" y2="407.8" stroke="#4c4c4c" stroke-width="1.25" stroke-dasharray="4.4 2.7"/>
<line x1="435.9" y1="315.4" x2="444.5" y2="315.4" stroke="#2a2a2a" stroke-width="1.0"/>
<line x1="435.9" y1="463.2" x2="444.5" y2="463.2" stroke="#2a2a2a" stroke-width="1.0"/>
<rect x="432.3" y="370.6" width="15.8" height="37.2" fill="#aeaeae" stroke="#2a2a2a" stroke-width="1.0"/>
<line x1="432.3" y1="389" x2="448.1" y2="389" stroke="#000" stroke-width="2.2"/>
<line x1="459.95" y1="320.2" x2="459.95" y2="374.2" stroke="#4c4c4c" stroke-width="1.25" stroke-dasharray="4.4 2.7"/>
<line x1="459.95" y1="464.4" x2="459.95" y2="410.4" stroke="#4c4c4c" stroke-width="1.25" stroke-dasharray="4.4 2.7"/>
<line x1="455.65" y1="320.2" x2="464.25" y2="320.2" stroke="#2a2a2a" stroke-width="1.0"/>
<line x1="455.65" y1="464.4" x2="464.25" y2="464.4" stroke="#2a2a2a" stroke-width="1.0"/>
<rect x="452.05" y="374.2" width="15.8" height="36.2" fill="#aeaeae" stroke="#2a2a2a" stroke-width="1.0"/>
<line x1="452.05" y1="391.2" x2="467.85" y2="391.2" stroke="#000" stroke-width="2.2"/>
<line x1="479.7" y1="325.8" x2="479.7" y2="372.7" stroke="#4c4c4c" stroke-width="1.25" stroke-dasharray="4.4 2.7"/>
<line x1="479.7" y1="451.8" x2="479.7" y2="404.2" stroke="#4c4c4c" stroke-width="1.25" stroke-dasharray="4.4 2.7"/>
<line x1="475.4" y1="325.8" x2="484" y2="325.8" stroke="#2a2a2a" stroke-width="1.0"/>
<line x1="475.4" y1="451.8" x2="484" y2="451.8" stroke="#2a2a2a" stroke-width="1.0"/>
<rect x="471.8" y="372.7" width="15.8" height="31.5" fill="#aeaeae" stroke="#2a2a2a" stroke-width="1.0"/>
<line x1="471.8" y1="387.3" x2="487.6" y2="387.3" stroke="#000" stroke-width="2.2"/>
<line x1="284.3" y1="348.8" x2="497.5" y2="348.8" stroke="#d3d3d3" stroke-opacity="0.3" stroke-width="1.0" stroke-dasharray="4.4 2.7"/>
<rect x="284.3" y="262" width="213.2" height="213" fill="none" stroke="#383838" stroke-width="0.9"/>
<line x1="301.95" y1="475" x2="301.95" y2="480.3" stroke="#3a3a3a" stroke-width="1.0"/>
<text x="295.95" y="496.7" font-size="8.7" text-anchor="middle" dominant-baseline="central" transform="rotate(-45 295.95 496.7)">0-0.1</text>
<line x1="321.7" y1="475" x2="321.7" y2="480.3" stroke="#3a3a3a" stroke-width="1.0"/>
<text x="315.7" y="496.7" font-size="8.7" text-anchor="middle" dominant-baseline="central" transform="rotate(-45 315.7 496.7)">0.1-0.2</text>
<line x1="341.45" y1="475" x2="341.45" y2="480.3" stroke="#3a3a3a" stroke-width="1.0"/>
<text x="335.45" y="496.7" font-size="8.7" text-anchor="middle" dominant-baseline="central" transform="rotate(-45 335.45 496.7)">0.2-0.3</text>
<line x1="361.2" y1="475" x2="361.2" y2="480.3" stroke="#3a3a3a" stroke-width="1.0"/>
<text x="355.2" y="496.7" font-size="8.7" text-anchor="middle" dominant-baseline="central" transform="rotate(-45 355.2 496.7)">0.3-0.4</text>
<line x1="380.95" y1="475" x2="380.95" y2="480.3" stroke="#3a3a3a" stroke-width="1.0"/>
<text x="374.95" y="496.7" font-size="8.7" text-anchor="middle" dominant-baseline="central" transform="rotate(-45 374.95 496.7)">0.4-0.5</text>
<line x1="400.7" y1="475" x2="400.7" y2="480.3" stroke="#3a3a3a" stroke-width="1.0"/>
<text x="394.7" y="496.7" font-size="8.7" text-anchor="middle" dominant-baseline="central" transform="rotate(-45 394.7 496.7)">0.5-0.6</text>
<line x1="420.45" y1="475" x2="420.45" y2="480.3" stroke="#3a3a3a" stroke-width="1.0"/>
<text x="414.45" y="496.7" font-size="8.7" text-anchor="middle" dominant-baseline="central" transform="rotate(-45 414.45 496.7)">0.6-0.7</text>
<line x1="440.2" y1="475" x2="440.2" y2="480.3" stroke="#3a3a3a" stroke-width="1.0"/>
<text x="434.2" y="496.7" font-size="8.7" text-anchor="middle" dominant-baseline="central" transform="rotate(-45 434.2 496.7)">0.7-0.8</text>
<line x1="459.95" y1="475" x2="459.95" y2="480.3" stroke="#3a3a3a" stroke-width="1.0"/>
<text x="453.95" y="496.7" font-size="8.7" text-anchor="middle" dominant-baseline="central" transform="rotate(-45 453.95 496.7)">0.8-0.9</text>
<line x1="479.7" y1="475" x2="479.7" y2="480.3" stroke="#3a3a3a" stroke-width="1.0"/>
<text x="473.7" y="496.7" font-size="8.7" text-anchor="middle" dominant-baseline="central" transform="rotate(-45 473.7 496.7)">0.9-1</text>
<line x1="497.5" y1="299.55" x2="502.7" y2="299.55" stroke="#3a3a3a" stroke-width="1.0"/>
<text x="513" y="299.55" font-size="8.7" text-anchor="middle" dominant-baseline="central" transform="rotate(-90 513 299.55)">0.05</text>
<line x1="497.5" y1="348.8" x2="502.7" y2="348.8" stroke="#3a3a3a" stroke-width="1.0"/>
<text x="513" y="348.8" font-size="8.7" text-anchor="middle" dominant-baseline="central" transform="rotate(-90 513 348.8)">0.00</text>
<line x1="497.5" y1="398.05" x2="502.7" y2="398.05" stroke="#3a3a3a" stroke-width="1.0"/>
<text x="513" y="398.05" font-size="8.7" text-anchor="middle" dominant-baseline="central" transform="rotate(-90 513 398.05)">-0.05</text>
<line x1="497.5" y1="447.3" x2="502.7" y2="447.3" stroke="#3a3a3a" stroke-width="1.0"/>
<text x="513" y="447.3" font-size="8.7" text-anchor="middle" dominant-baseline="central" transform="rotate(-90 513 447.3)">-0.10</text>
<text x="390.9" y="275.8" font-size="10.5" text-anchor="middle">Non-Island</text>
<text x="390.9" y="519.7" font-size="10.4" text-anchor="middle">Mock methylation value bin</text>
</svg>
</body>
</html>
